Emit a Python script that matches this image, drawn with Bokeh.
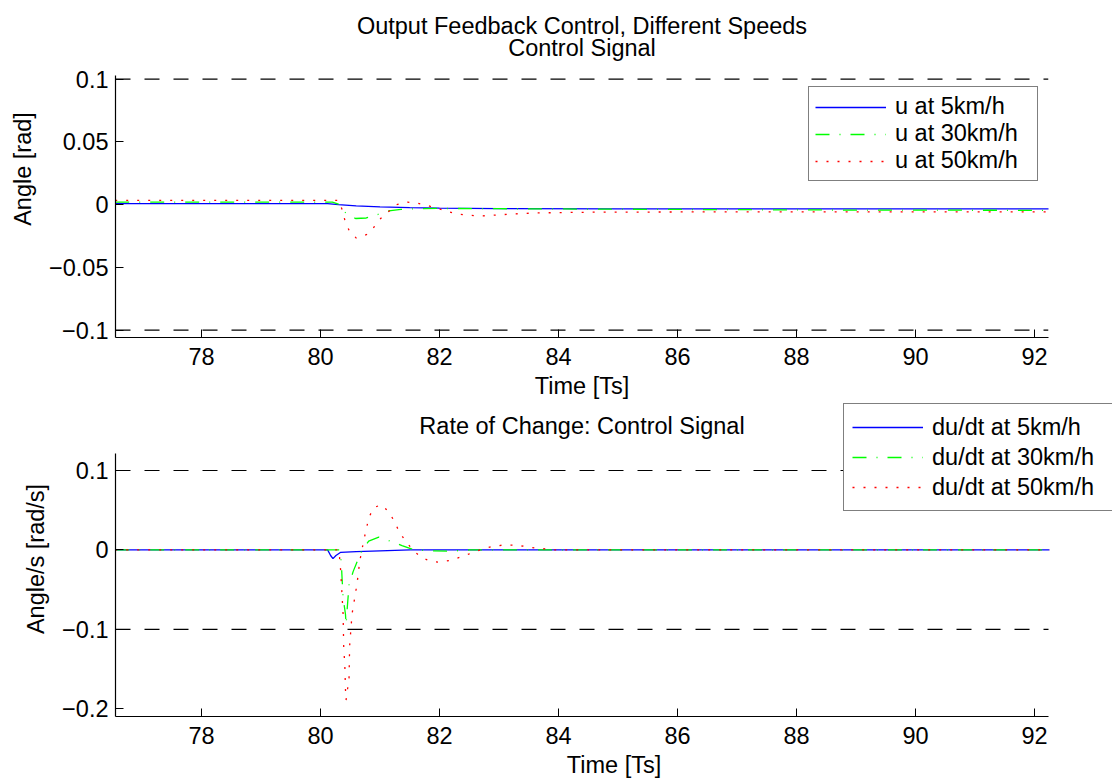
from bokeh.plotting import figure
from bokeh.layouts import column
from bokeh.models import (Legend, LegendItem, Label, FixedTicker,
                          CustomJSTickFormatter, Range1d)
from bokeh.embed import file_html
from bokeh.resources import INLINE

FONT = "Liberation Sans"
FS = "23.5px"

# ---------------- data: control signal u ----------------
t_u5 = [76.55, 80.05, 80.12, 80.3, 80.6, 81.0, 81.5, 82.0, 83.0, 85.0, 88.0, 92.25]
u5 = [0.0009, 0.0009, 0.0008, 0.0, -0.0010, -0.0018, -0.0024, -0.0028, -0.0031, -0.0033, -0.0034, -0.0034]

t_u30 = [76.55, 80.2, 80.3, 80.39, 80.5, 80.59, 80.77, 80.95, 81.15, 81.35, 81.6, 82.0, 83.0, 86.0, 89.0, 92.25]
u30 = [0.0021, 0.0021, 0.0005, -0.0053, -0.0090, -0.0110, -0.0106, -0.0080, -0.0050, -0.0038, -0.0032, -0.0030, -0.0032, -0.0038, -0.0043, -0.0045]

t_u50 = [76.55, 80.3, 80.365, 80.41, 80.48, 80.60, 80.77, 80.90, 81.01, 81.28, 81.46, 81.64, 81.82,
         81.99, 82.16, 82.34, 82.52, 82.70, 82.87, 83.2, 83.6, 84.5, 86.0, 89.0, 92.25]
u50 = [0.0035, 0.0035, -0.0040, -0.0124, -0.0204, -0.0265, -0.0239, -0.0178, -0.0111, 0.0, 0.0021, 0.0011, -0.0010,
       -0.0032, -0.0058, -0.0077, -0.0085, -0.0090, -0.0085, -0.0075, -0.0066, -0.0060, -0.0058, -0.0058, -0.0058]

# ---------------- data: rate of change du/dt ----------------
t_d5 = [76.55, 80.12, 80.17, 80.21, 80.26, 80.34, 80.6, 81.0, 81.51, 92.25]
d5 = [0.0, 0.0, -0.007, -0.0109, -0.007, -0.003, -0.0022, -0.0012, 0.0, 0.0]

t_d30 = [76.55, 80.325, 80.35, 80.365, 80.38, 80.42, 80.43, 80.45, 80.48, 80.55, 80.62, 80.70, 80.81, 80.98,
         81.18, 81.37, 81.54, 81.8, 82.19, 82.5, 92.25]
d30 = [0.0, 0.0, -0.016, -0.039, -0.060, -0.081, -0.094, -0.073, -0.044, -0.027, -0.014, 0.0, 0.011, 0.016,
       0.011, 0.0055, 0.001, -0.001, -0.0016, 0.0, 0.0]

t_d50 = [76.55, 80.31, 80.34, 80.38, 80.39, 80.41, 80.42, 80.43, 80.48, 80.49, 80.53, 80.56, 80.59, 80.62, 80.66,
         80.73, 80.77, 80.81, 80.89, 81.02, 81.15, 81.24, 81.32, 81.42, 81.54, 81.67, 81.83, 82.0, 82.19, 82.35,
         82.52, 82.70, 82.87, 83.05, 83.23, 83.41, 83.6, 83.95, 92.25]
d50 = [0.0, 0.0, -0.027, -0.081, -0.121, -0.148, -0.176, -0.189, -0.161, -0.121, -0.081, -0.067, -0.054, -0.039, -0.014,
       0.013, 0.026, 0.040, 0.053, 0.057, 0.048, 0.036, 0.0235, 0.012, 0.001, -0.008, -0.014, -0.0155, -0.013, -0.009,
       -0.0045, 0.0005, 0.004, 0.006, 0.006, 0.0047, 0.0025, 0.0, 0.0]

limits = [0.1, -0.1]
x_ticks = [78, 80, 82, 84, 86, 88, 90, 92]
y_ticks_top = [-0.1, -0.05, 0, 0.05, 0.1]
y_ticks_bot = [-0.2, -0.1, 0, 0.1]

labels_top = ["u at 5km/h", "u at 30km/h", "u at 50km/h"]
labels_bot = ["du/dt at 5km/h", "du/dt at 30km/h", "du/dt at 50km/h"]
title_top = ["Output Feedback Control, Different Speeds", "Control Signal"]
title_bot = "Rate of Change: Control Signal"

# axis extents (data units)
X_LO, X_HI = 76.555, 92.235
Y1_LO, Y1_HI = -0.1058, 0.1029
Y2_LO, Y2_HI = -0.2097, 0.1214

BLUE, GREEN, RED = "#0000ff", "#00ff00", "#ff0000"

fmt = CustomJSTickFormatter(code="""
const v = Math.round(tick * 1000) / 1000;
if (v < 0) { return "\\u2212" + String(-v); }
return String(v);
""")


def style(p, yticks, ylo, yhi):
    p.xaxis.ticker = FixedTicker(ticks=x_ticks)
    p.yaxis.ticker = FixedTicker(ticks=yticks)
    p.yaxis.formatter = fmt
    p.xaxis.bounds = (X_LO, X_HI)
    p.yaxis.bounds = (ylo, yhi)
    for ax in (p.xaxis[0], p.yaxis[0]):
        ax.major_tick_in = 8
        ax.major_tick_out = 0
        ax.minor_tick_line_color = None
        ax.axis_line_color = "black"
        ax.axis_line_width = 1.2
        ax.major_tick_line_color = "black"
        ax.major_label_text_font = FONT
        ax.major_label_text_font_size = FS
        ax.major_label_text_color = "black"
        ax.axis_label_text_font = FONT
        ax.axis_label_text_font_size = FS
        ax.axis_label_text_font_style = "normal"
        ax.axis_label_text_color = "black"
    p.xaxis.major_label_standoff = 10
    p.yaxis.major_label_standoff = 7
    p.xaxis.axis_label = "Time [Ts]"
    p.xaxis.axis_label_standoff = 5
    p.yaxis.axis_label_standoff = 10
    p.xgrid.grid_line_color = None
    p.ygrid.grid_line_color = None
    p.outline_line_color = None
    p.segment(x0=[X_LO] * len(limits), x1=[X_HI] * len(limits), y0=limits, y1=limits,
              line_color="black", line_dash="15 14", line_width=1.2)


def make_legend(p, renderers, labels, location, row_h, lab_w, pad):
    items = [LegendItem(label=l, renderers=[r]) for l, r in zip(labels, renderers)]
    leg = Legend(items=items, location=location, label_text_font=FONT,
                 label_text_font_size=FS, label_text_color="black",
                 border_line_color="black", border_line_width=1.2,
                 background_fill_color="white", background_fill_alpha=1.0,
                 glyph_width=71, label_standoff=9, padding=pad, spacing=0,
                 label_height=row_h, glyph_height=row_h, label_width=lab_w, margin=0)
    p.add_layout(leg)


def add_text(p, txt, x, y):
    p.add_layout(Label(x=x, y=y, text=txt, text_align="center", text_baseline="middle",
                       text_font=FONT, text_font_size=FS, text_color="black"))


XC = (X_LO + X_HI) / 2

# ---------------- top figure: frame spans from the page top to the x axis ----------------
PX1 = 262.0 / (Y1_HI - Y1_LO)  # px per unit (axis height 262 px)
top1 = Y1_LO + 337.0 / PX1
p1 = figure(width=1114, height=400, frame_width=933, frame_height=337,
            x_range=Range1d(X_LO, X_HI), y_range=Range1d(Y1_LO, top1),
            output_backend="svg", toolbar_location=None,
            min_border_left=115, min_border_right=66, min_border_top=0, min_border_bottom=63)
p1.yaxis.axis_label = "Angle [rad]"
style(p1, y_ticks_top, Y1_LO, Y1_HI)
r1 = p1.line(t_u5, u5, line_color=BLUE, line_width=1.3)
r2 = p1.line(t_u30, u30, line_color=GREEN, line_width=1.3, line_dash="14 10 1 10")
r3 = p1.line(t_u50, u50, line_color=RED, line_width=1.3, line_dash="2 9")
make_legend(p1, [r1, r2, r3], labels_top, (693, 156), 26, 136, 6)
add_text(p1, title_top[0], XC, top1 - 25 / PX1)
add_text(p1, title_top[1], XC, top1 - 47 / PX1)

# ---------------- bottom figure: frame spans the whole right side ----------------
PX2 = 263.0 / (Y2_HI - Y2_LO)
top2 = Y2_LO + 315.0 / PX2
XPX = 933.0 / (X_HI - X_LO)
p2 = figure(width=1114, height=380, frame_width=997, frame_height=315,
            x_range=Range1d(X_LO, X_LO + 997.0 / XPX), y_range=Range1d(Y2_LO, top2),
            output_backend="svg", toolbar_location=None,
            min_border_left=115, min_border_right=2, min_border_top=0, min_border_bottom=65)
p2.yaxis.axis_label = "Angle/s [rad/s]"
style(p2, y_ticks_bot, Y2_LO, Y2_HI)
q1 = p2.line(t_d5, d5, line_color=BLUE, line_width=1.3)
q2 = p2.line(t_d30, d30, line_color=GREEN, line_width=1.3, line_dash="14 10 1 10")
q3 = p2.line(t_d50, d50, line_color=RED, line_width=1.3, line_dash="2 9")
make_legend(p2, [q1, q2, q3], labels_bot, (728, 205), 30, 172, 8)
add_text(p2, title_bot, XC, top2 - 24 / PX2)

layout = column(p1, p2, spacing=0)
open("out.html", "w").write(file_html(layout, INLINE))
